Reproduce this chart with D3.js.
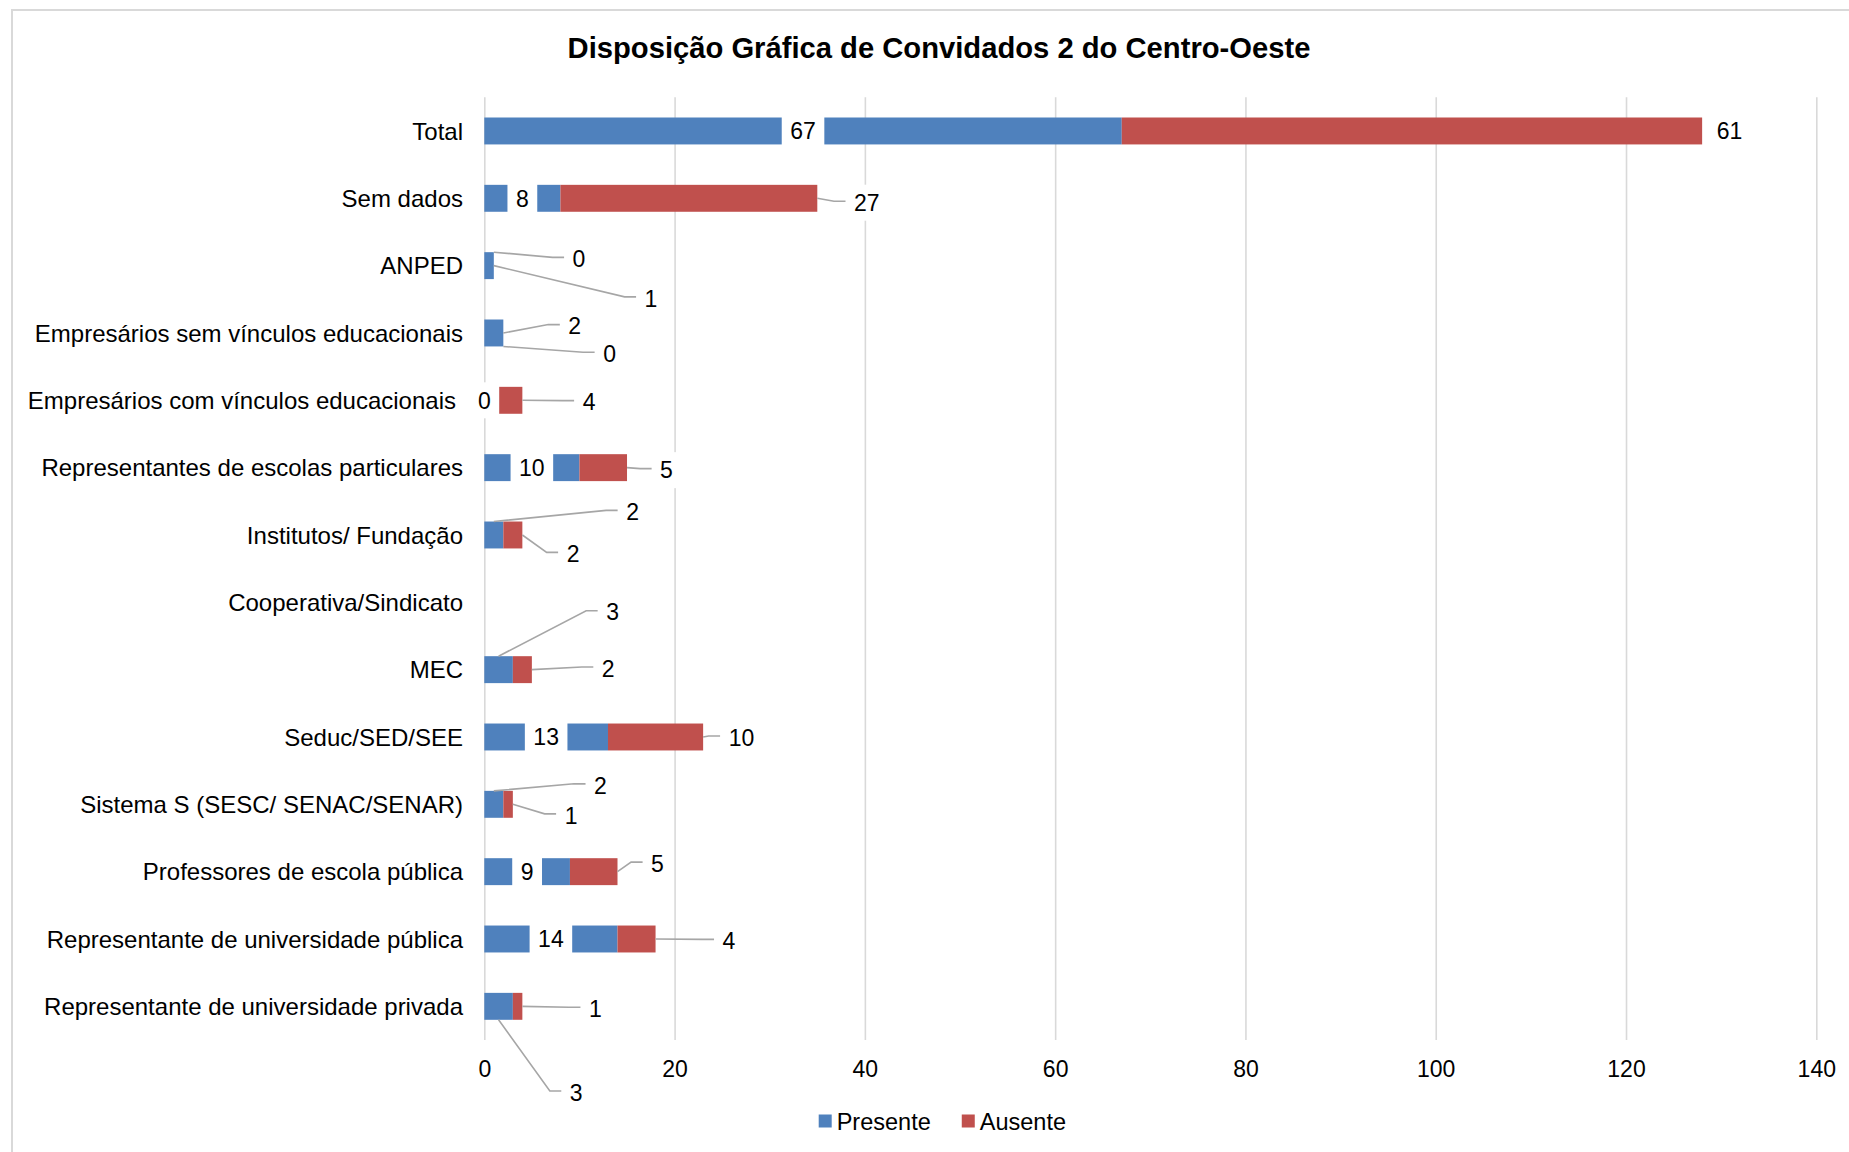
<!DOCTYPE html>
<html>
<head>
<meta charset="utf-8">
<script src="https://cdn.jsdelivr.net/npm/d3@7"></script>
<style>
  html, body { margin: 0; padding: 0; background: #ffffff; }
  svg { display: block; font-family: "Liberation Sans", Arial, sans-serif; }
</style>
</head>
<body>
<svg id="chart" width="1849" height="1152"></svg>
<script>
// Categories, top row first
const categories = [
  "Total",
  "Sem dados",
  "ANPED",
  "Empresários sem vínculos educacionais",
  "Empresários com vínculos educacionais",
  "Representantes de escolas particulares",
  "Institutos/ Fundação",
  "Cooperativa/Sindicato",
  "MEC",
  "Seduc/SED/SEE",
  "Sistema S (SESC/ SENAC/SENAR)",
  "Professores de escola pública",
  "Representante de universidade pública",
  "Representante de universidade privada"
];

// Series values (null = no data for that row)
const presente = [67, 8, 1, 2, 0, 10, 2, null, 3, 13, 2, 9, 14, 3];
const ausente  = [61, 27, 0, 0, 4, 5, 2, null, 2, 10, 1, 5, 4, 1];

const seriesNames = ["Presente", "Ausente"];
const axisTicks = [0, 20, 40, 60, 80, 100, 120, 140];

// Data-label placement: "c" = centred on the segment, otherwise
// [dx from segment end, dy from row centre, leader anchor: r / t / b / none]
const presenteLabelPlace = [
  "c", "c", [157.2, 32.7, "r"], [71.4, -6.9, "r"], "c", "c",
  [129.2, -23.1, "t"], null, [99.7, -57.4, "t"], "c",
  [97.1, -19, "t"], "c", "c", [63.4, 86.1, "b"]
];
const ausenteLabelPlace = [
  [27.4, 0, "none"], [49.5, 4.4, "r"], [85.2, -6.8, "t"], [106.2, 20.8, "b"],
  [66.7, 1.8, "r"], [39.5, 2.5, "r"], [50.7, 18.9, "r"], null,
  [76.4, -1.1, "r"], [38.3, 0.5, "r"], [58.2, 11, "r"], [40, -8, "r"],
  [73.4, 1.9, "r"], [73, 2.4, "r"]
];

const colors = { Presente: "#4f81bd", Ausente: "#c0504d" };
const gridColor = "#d9d9d9";
const leaderColor = "#a6a6a6";

const svg = d3.select("#chart");

// Outer chart frame
svg.append("rect")
  .attr("x", 12).attr("y", 10)
  .attr("width", 1880).attr("height", 1170)
  .attr("fill", "#ffffff")
  .attr("stroke", gridColor).attr("stroke-width", 2);

// Title
svg.append("text")
  .attr("x", 939).attr("y", 58)
  .attr("text-anchor", "middle")
  .attr("font-size", 29.2).attr("font-weight", "bold")
  .attr("fill", "#000")
  .text("Disposição Gráfica de Convidados 2 do Centro-Oeste");

const plot = { left: 484.3, right: 1816.3, top: 97.3, bottom: 1040 };

const x = d3.scaleLinear().domain([0, 140]).range([plot.left, plot.right]);
const y = d3.scaleBand().domain(categories)
  .range([plot.top, plot.bottom])
  .paddingInner(0.6).paddingOuter(0.3);

// Vertical gridlines
const grid = svg.append("g")
  .attr("transform", `translate(0,${plot.bottom})`)
  .call(d3.axisBottom(x).tickValues(axisTicks)
    .tickSize(-(plot.bottom - plot.top)).tickFormat(""));
grid.select(".domain").remove();
grid.selectAll(".tick line").attr("stroke", gridColor).attr("stroke-width", 1.6);

// Value axis labels
const axis = svg.append("g")
  .attr("transform", `translate(0,${plot.bottom})`)
  .call(d3.axisBottom(x).tickValues(axisTicks).tickSize(0));
axis.select(".domain").remove();
axis.selectAll(".tick text")
  .attr("y", 37.4).attr("dy", 0)
  .attr("font-size", 23).attr("font-family", "Liberation Sans, Arial, sans-serif")
  .attr("fill", "#000");

// Category labels (the long label beside the "0" value label sits a little further left)
const categoryLabelShift = { "Empresários com vínculos educacionais": -7 };
svg.append("g").selectAll("text")
  .data(categories)
  .join("text")
  .attr("x", d => 463 + (categoryLabelShift[d] || 0))
  .attr("y", d => y(d) + y.bandwidth() / 2 + 8.6)
  .attr("text-anchor", "end")
  .attr("font-size", 24)
  .attr("fill", "#000")
  .text(d => d);

// Stacked segments
const segments = [];
categories.forEach((c, i) => {
  if (presente[i] == null && ausente[i] == null) return;
  const p = presente[i] || 0, a = ausente[i] || 0;
  segments.push({ cat: c, series: "Presente", x0: 0, x1: p, value: presente[i], place: presenteLabelPlace[i] });
  segments.push({ cat: c, series: "Ausente", x0: p, x1: p + a, value: ausente[i], place: ausenteLabelPlace[i] });
});

svg.append("g").selectAll("rect")
  .data(segments.filter(s => s.x1 > s.x0))
  .join("rect")
  .attr("x", d => x(d.x0))
  .attr("y", d => y(d.cat))
  .attr("width", d => x(d.x1) - x(d.x0))
  .attr("height", y.bandwidth())
  .attr("fill", d => colors[d.series]);

// Data labels with white boxes and leader lines
const labelSize = 23;
const leaders = svg.append("g");
const labels = svg.append("g");

segments.filter(s => s.place != null && s.value != null).forEach(s => {
  const cy = y(s.cat) + y.bandwidth() / 2;
  const xs = x(s.x0), xe = x(s.x1);
  let lx, ly;
  if (s.place === "c") {
    lx = (xs + xe) / 2; ly = cy;
  } else {
    lx = xe + s.place[0]; ly = cy + s.place[1];
  }
  const g = labels.append("g");
  const box = g.append("rect").attr("fill", "#ffffff");
  const t = g.append("text")
    .attr("x", lx).attr("y", ly + labelSize * 0.358)
    .attr("text-anchor", "middle")
    .attr("font-size", labelSize)
    .attr("fill", "#000")
    .text(s.value);
  const w = t.node().getComputedTextLength();
  box.attr("x", lx - w / 2 - 8.5).attr("y", ly - 18)
    .attr("width", w + 17).attr("height", 36);

  if (s.place !== "c" && s.place[2] !== "none") {
    const anchor = s.place[2];
    let ax, ay;
    if (anchor === "r") { ax = xe; ay = cy; }
    else if (anchor === "t") { ax = (xs + xe) / 2; ay = y(s.cat); }
    else { ax = (xs + xe) / 2; ay = y(s.cat) + y.bandwidth(); }
    const left = lx - w / 2;
    const ly2 = ly - 1.5;
    leaders.append("polyline")
      .attr("points", [[ax, ay], [left - 20, ly2], [left - 8, ly2]].map(p => p.join(",")).join(" "))
      .attr("fill", "none")
      .attr("stroke", leaderColor)
      .attr("stroke-width", 1.6);
  }
});

// Legend
const legend = svg.append("g");
let lxPos = 818.7;
seriesNames.forEach(name => {
  legend.append("rect")
    .attr("x", lxPos).attr("y", 1114.5)
    .attr("width", 13).attr("height", 13)
    .attr("fill", colors[name]);
  const t = legend.append("text")
    .attr("x", lxPos + 18).attr("y", 1121.8 + 8.4)
    .attr("font-size", 23.5)
    .attr("fill", "#000")
    .text(name);
  lxPos += 18 + t.node().getComputedTextLength() + 31;
});
</script>
</body>
</html>
